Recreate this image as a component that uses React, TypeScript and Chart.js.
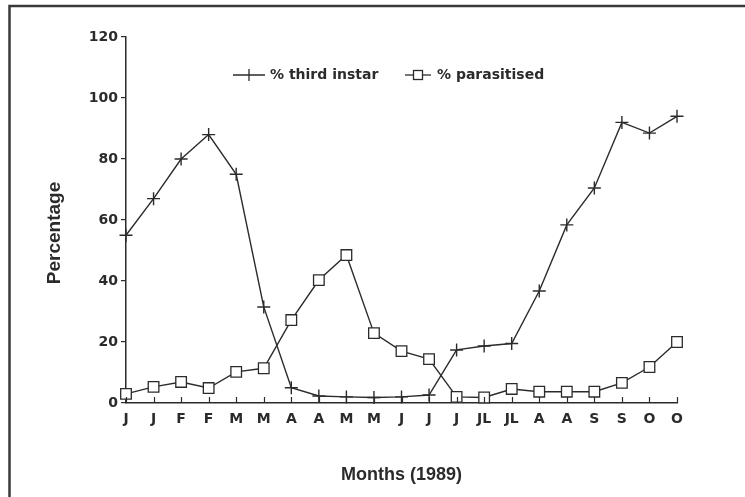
import React, { useEffect, useRef } from 'react';
import { Chart, registerables } from 'chart.js';

Chart.register(...registerables);

const months = ['J', 'J', 'F', 'F', 'M', 'M', 'A', 'A', 'M', 'M', 'J', 'J', 'J', 'JL', 'JL', 'A', 'A', 'S', 'S', 'O', 'O'];
const thirdInstar = [55, 67, 80, 88, 75, 31.5, 5, 2.3, 2, 1.8, 2, 2.6, 17.4, 18.7, 19.5, 36.7, 58.4, 70.5, 92, 88.5, 94];
const parasitised = [3, 5.3, 6.9, 4.9, 10.2, 11.4, 27.2, 40.3, 48.5, 22.9, 17, 14.4, 2, 1.8, 4.6, 3.7, 3.7, 3.7, 6.6, 11.8, 20];
const yTickValues = [0, 20, 40, 60, 80, 100, 120];
const seriesLabels = ['% third instar', '% parasitised'];
const xTitle = 'Months (1989)';
const yTitle = 'Percentage';

const INK = '#2b2b2b';
const TICK_FONT = { family: '"DejaVu Sans"', size: 14, weight: 'bold' as const };

const framePlugin = {
  id: 'frame',
  beforeDraw(chart: any) {
    const ctx = chart.ctx;
    ctx.save();
    ctx.fillStyle = '#ffffff';
    ctx.fillRect(0, 0, chart.width, chart.height);
    ctx.strokeStyle = '#3a3a3a';
    ctx.lineWidth = 2.5;
    ctx.beginPath();
    ctx.moveTo(9.5, chart.height);
    ctx.lineTo(9.5, 6);
    ctx.lineTo(chart.width, 6);
    ctx.stroke();
    ctx.restore();
  },
};

const annotPlugin = {
  id: 'annot',
  afterDraw(chart: any) {
    const ctx = chart.ctx;
    const ds = chart.data.datasets;
    const xs = chart.scales.x;
    const area = chart.chartArea;
    ctx.save();
    ctx.strokeStyle = INK;
    ctx.fillStyle = INK;
    ctx.lineWidth = 1.2;
    // upward x tick marks at each category
    ctx.beginPath();
    for (let i = 0; i < xs.ticks.length; i++) {
      const px = Math.round(xs.getPixelForTick(i)) + 0.5;
      ctx.moveTo(px, area.bottom);
      ctx.lineTo(px, area.bottom - 6);
    }
    ctx.stroke();
    ctx.lineWidth = 1.3;
    const ly = 75;
    // legend item 1: line with cross
    ctx.beginPath();
    ctx.moveTo(233, ly);
    ctx.lineTo(265, ly);
    ctx.moveTo(249, ly - 6);
    ctx.lineTo(249, ly + 6);
    ctx.stroke();
    // legend item 2: line with square
    ctx.beginPath();
    ctx.moveTo(405, ly);
    ctx.lineTo(431, ly);
    ctx.stroke();
    ctx.fillStyle = '#ffffff';
    ctx.fillRect(413.5, ly - 4.5, 9, 9);
    ctx.strokeRect(413.5, ly - 4.5, 9, 9);
    ctx.fillStyle = INK;
    ctx.font = 'bold 14px "DejaVu Sans"';
    ctx.textBaseline = 'middle';
    ctx.textAlign = 'left';
    ctx.fillText(ds[0].label, 270, ly);
    ctx.fillText(ds[1].label, 437, ly);
    // y axis title
    ctx.translate(55, 233);
    ctx.rotate(-Math.PI / 2);
    ctx.font = 'bold 19px "Liberation Sans"';
    ctx.textAlign = 'center';
    ctx.fillText(yTitle, 0, 0);
    ctx.restore();
  },
};

export default function App() {
  const ref = useRef<HTMLCanvasElement | null>(null);
  useEffect(() => {
    document.body.style.margin = '0';
    const canvas = ref.current;
    if (!canvas) return;
    const chart = new Chart(canvas, {
      type: 'line',
      data: {
        labels: months,
        datasets: [
          {
            label: seriesLabels[0],
            data: thirdInstar,
            borderColor: INK,
            borderWidth: 1.4,
            pointStyle: 'cross',
            pointRadius: 6.5,
            pointBorderWidth: 1.4,
            pointBorderColor: INK,
            fill: false,
            tension: 0,
            clip: false as any,
            order: 1,
          },
          {
            label: seriesLabels[1],
            data: parasitised,
            borderColor: INK,
            borderWidth: 1.4,
            pointStyle: 'rect',
            pointRadius: 7.5,
            pointBackgroundColor: '#ffffff',
            pointBorderColor: INK,
            pointBorderWidth: 1.3,
            fill: false,
            tension: 0,
            clip: false as any,
            order: 0,
          },
        ],
      },
      options: {
        animation: false,
        responsive: false,
        maintainAspectRatio: false,
        layout: { padding: { left: 0, right: 68, top: 37, bottom: 0 } },
        plugins: { legend: { display: false }, tooltip: { enabled: false } },
        scales: {
          x: {
            type: 'category',
            offset: false,
            grid: { display: false, drawTicks: false },
            border: { display: true, color: INK, width: 1.5 },
            ticks: { color: INK, font: TICK_FONT, padding: 8, maxRotation: 0, autoSkip: false },
            title: {
              display: true,
              text: xTitle,
              color: INK,
              font: { family: '"Liberation Sans"', size: 18, weight: 'bold' },
              padding: { top: 0, bottom: 11 },
            },
            afterFit: (s: any) => {
              s.height = 94;
            },
          },
          y: {
            type: 'linear',
            min: 0,
            max: 120,
            afterBuildTicks: (s: any) => {
              s.ticks = yTickValues.map((v) => ({ value: v }));
            },
            grid: { display: true, drawOnChartArea: false, drawTicks: true, tickLength: 5, color: INK, lineWidth: 1.2 },
            border: { display: true, color: INK, width: 1.5 },
            ticks: { color: INK, font: TICK_FONT, padding: 3 },
            afterFit: (s: any) => {
              s.width = 126;
            },
          },
        },
      },
      plugins: [framePlugin, annotPlugin],
    });
    return () => chart.destroy();
  }, []);
  return <canvas ref={ref} width={745} height={497} style={{ display: 'block' }} />;
}
